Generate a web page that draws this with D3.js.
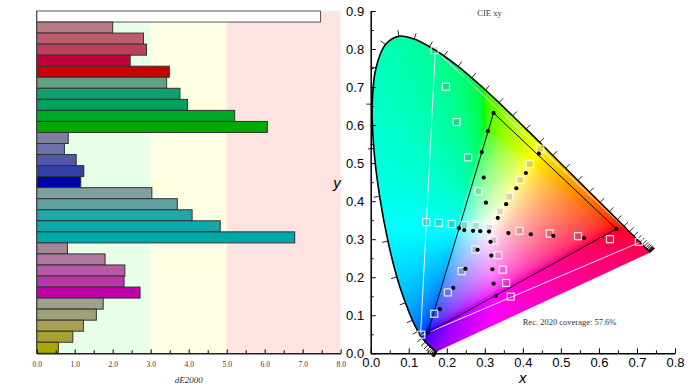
<!DOCTYPE html>
<html><head><meta charset="utf-8">
<script src="https://cdn.jsdelivr.net/npm/d3@7"></script>
<style>body{margin:0;background:#fff}svg{display:block}</style>
</head><body>
<svg id="c" width="693" height="390"></svg>
<script>
// ---------- Left chart data ----------
const barValues=[7.47,2.00,2.81,2.89,2.46,3.49,3.42,3.77,3.97,5.21,6.07,0.83,0.73,1.04,1.24,1.16,3.03,3.70,4.09,4.83,6.79,0.81,1.80,2.32,2.30,2.72,1.75,1.57,1.23,0.95,0.57];
const barColors=["#ffffff","#b87a84","#bc5c6c","#bd3f5c","#c0003c","#c80000","#62a080","#10a070","#00a060","#00a828","#00a800","#8080a0","#7070a8","#5058a8","#3040a8","#0000a8","#80a0a0","#60a0a0","#20a8a8","#10a8a8","#00a8a8","#a08898","#b078a0","#b85aa8","#b838a8","#c000a8","#a0a090","#a0a078","#a8a058","#a8a030","#a8a800"];
const deTicks=[0,1,2,3,4,5,6,7,8];
const deMinorTicks=[0.5,1.5,2.5,3.5,4.5,5.5,6.5,7.5];
const zoneStart=[0,3,5];
const zoneEnd=[3,5,8];
const zoneColors=["#e6ffe6","#ffffe4","#ffe3e3"];

// ---------- Right chart data ----------
const locusX=[0.1741,0.1740,0.1738,0.1736,0.1733,0.1730,0.1726,0.1721,0.1714,0.1703,0.1689,0.1669,0.1644,0.1611,0.1566,0.1510,0.1440,0.1355,0.1241,0.1096,0.0913,0.0687,0.0454,0.0235,0.0082,0.0039,0.0139,0.0389,0.0743,0.1142,0.1547,0.1929,0.2296,0.2658,0.3016,0.3373,0.3731,0.4087,0.4441,0.4788,0.5125,0.5448,0.5752,0.6029,0.6270,0.6482,0.6658,0.6801,0.6915,0.7006,0.7079,0.7140,0.7190,0.7230,0.7260,0.7283,0.7300,0.7311,0.7320,0.7327,0.7334,0.7340,0.7344,0.7346,0.7347];
const locusY=[0.0050,0.0050,0.0049,0.0049,0.0048,0.0048,0.0048,0.0048,0.0051,0.0058,0.0069,0.0086,0.0109,0.0138,0.0177,0.0227,0.0297,0.0399,0.0578,0.0868,0.1327,0.2007,0.2950,0.4127,0.5384,0.6548,0.7502,0.8120,0.8338,0.8262,0.8059,0.7816,0.7543,0.7243,0.6923,0.6589,0.6245,0.5896,0.5547,0.5202,0.4866,0.4544,0.4242,0.3965,0.3725,0.3514,0.3340,0.3197,0.3083,0.2993,0.2920,0.2859,0.2809,0.2770,0.2740,0.2717,0.2700,0.2689,0.2680,0.2673,0.2666,0.2660,0.2656,0.2654,0.2653];
const rec2020X=[0.708,0.170,0.131];
const rec2020Y=[0.292,0.797,0.046];
const gamutX=[0.646,0.323,0.150];
const gamutY=[0.327,0.632,0.054];
const targetX=[0.168,0.198,0.226,0.256,0.283,0.364,0.393,0.418,0.446,0.340,0.146,0.179,0.213,0.247,0.277,0.312,0.391,0.471,0.545,0.629,0.705,0.323,0.275,0.335,0.239,0.347,0.203,0.356,0.167,0.368,0.133];
const targetY=[0.797,0.701,0.608,0.515,0.426,0.412,0.456,0.497,0.538,0.373,0.345,0.343,0.340,0.337,0.335,0.330,0.322,0.315,0.308,0.300,0.293,0.297,0.273,0.258,0.216,0.220,0.160,0.185,0.104,0.149,0.049];
const measX=[0.323,0.308,0.292,0.297,0.303,0.442,0.408,0.383,0.356,0.334,0.232,0.246,0.269,0.288,0.311,0.362,0.421,0.480,0.561,0.646,0.315,0.281,0.317,0.249,0.320,0.217,0.323,0.182,0.328,0.150];
const measY=[0.632,0.584,0.529,0.462,0.396,0.525,0.474,0.434,0.392,0.356,0.329,0.324,0.322,0.321,0.320,0.316,0.313,0.309,0.303,0.327,0.293,0.272,0.257,0.222,0.221,0.172,0.183,0.116,0.150,0.054];
const xyXTicks=[0,0.1,0.2,0.3,0.4,0.5,0.6,0.7,0.8];
const xyYTicks=[0,0.1,0.2,0.3,0.4,0.5,0.6,0.7,0.8,0.9];
const titleText="CIE xy";
const coverageText="Rec. 2020 coverage: 57.6%";

const W=693,H=390;
const svg=d3.select("#c");
svg.append("rect").attr("width",W).attr("height",H).attr("fill","#fff");

// ===== Left bar chart =====
const xL=d3.scaleLinear().domain([0,8]).range([36.7,340.7]);
const yL=d3.scaleBand().domain(d3.range(barValues.length)).range([11,353.3]).padding(0);
const gL=svg.append("g");
gL.selectAll("rect.zone").data(zoneStart).join("rect").attr("class","zone")
  .attr("x",(d)=>xL(d)).attr("width",(d,i)=>xL(zoneEnd[i])-xL(d))
  .attr("y",11).attr("height",353.3-11).attr("fill",(d,i)=>zoneColors[i]);
gL.selectAll("rect.bar").data(barValues).join("rect").attr("class","bar")
  .attr("x",xL(0)).attr("y",(d,i)=>yL(i)).attr("width",d=>xL(d)-xL(0)).attr("height",yL.bandwidth())
  .attr("fill",(d,i)=>barColors[i]).attr("stroke",(d,i)=>i===0?"#555":"#333").attr("stroke-width",1);
gL.append("line").attr("x1",xL(0)).attr("x2",xL(0)).attr("y1",11).attr("y2",353.3).attr("stroke","#444").attr("stroke-width",1);
const axL=gL.append("g").attr("transform","translate(0,353.3)")
  .call(d3.axisBottom(xL).tickValues(deTicks).tickFormat(d3.format(".1f")).tickSizeInner(-4).tickSizeOuter(0).tickPadding(8.5));
axL.select(".domain").attr("stroke","#222").attr("stroke-width",1.5);
axL.selectAll("text").attr("font-family","Liberation Serif").attr("font-size",7.5).attr("fill","#333");
const axLm=gL.append("g").attr("transform","translate(0,353.3)")
  .call(d3.axisBottom(xL).tickValues(deMinorTicks).tickFormat("").tickSizeInner(-3).tickSizeOuter(0));
axLm.select(".domain").remove();
gL.append("text").attr("x",188.7).attr("y",383).attr("text-anchor","middle")
  .attr("font-family","Liberation Serif").attr("font-style","italic").attr("font-size",9).attr("fill","#333").text("dE2000");

// ===== Right CIE chart =====
const xR=d3.scaleLinear().domain([0,0.8]).range([370.7,675]);
const yR=d3.scaleLinear().domain([0,0.9]).range([353.3,11]);
const locusPts=locusX.map((x,i)=>[xR(x),yR(locusY[i])]);
const lineGen=d3.line().curve(d3.curveCatmullRom.alpha(0.5));
const locusPath=lineGen(locusPts);
const fillPath=locusPath+"Z";

function xyToRgb(x,y){
  if(y<0.0005)y=0.0005;
  const X=x/y,Y=1,Z=(1-x-y)/y;
  let r=3.2406*X-1.5372*Y-0.4986*Z;
  let g=-0.9689*X+1.8758*Y+0.0415*Z;
  let b=0.0557*X-0.2040*Y+1.0570*Z;
  const m=Math.min(r,g,b,0); r-=m; g-=m; b-=m;
  const M=Math.max(r,g,b)||1; r/=M; g/=M; b/=M;
  const gm=v=>v<=0.0031308?12.92*v:1.055*Math.pow(v,1/2.4)-0.055;
  return [gm(r)*255,gm(g)*255,gm(b)*255];
}
const off=document.createElement("canvas"); off.width=W; off.height=H;
const octx=off.getContext("2d");
const bx0=Math.floor(xR(0)), bx1=Math.ceil(xR(0.74)), by0=Math.floor(yR(0.845)), by1=Math.ceil(yR(0));
const img=octx.createImageData(bx1-bx0,by1-by0);
for(let py=by0;py<by1;py++){
  for(let px=bx0;px<bx1;px++){
    const c=xyToRgb(xR.invert(px+0.5),yR.invert(py+0.5));
    const k=((py-by0)*(bx1-bx0)+(px-bx0))*4;
    img.data[k]=c[0];img.data[k+1]=c[1];img.data[k+2]=c[2];img.data[k+3]=255;
  }
}
octx.putImageData(img,bx0,by0);
const cv=document.createElement("canvas"); cv.width=W; cv.height=H;
const ctx=cv.getContext("2d");
ctx.save(); ctx.clip(new Path2D(fillPath)); ctx.drawImage(off,0,0); ctx.restore();
const gR=svg.append("g");
gR.append("image").attr("href",cv.toDataURL()).attr("x",0).attr("y",0).attr("width",W).attr("height",H);

// Rec.2020 triangle (white)
const triPts=(xs,ys)=>xs.map((x,i)=>[xR(x),yR(ys[i])]);
gR.append("path").attr("d",d3.line()(triPts(rec2020X,rec2020Y))+"Z")
  .attr("fill","none").attr("stroke","#fff").attr("stroke-width",1).attr("opacity",0.9);
// measured gamut (black)
gR.append("path").attr("d",d3.line()(triPts(gamutX,gamutY))+"Z")
  .attr("fill","none").attr("stroke","#000").attr("stroke-width",1);

// locus outline
gR.append("path").attr("d",locusPath).attr("fill","none").attr("stroke","#000").attr("stroke-width",1.6);
// wavelength ticks
const cxp=xR(0.33),cyp=yR(0.33);
const ticks=[];
locusPts.forEach((p,i)=>{
  let j=i,k=i;
  while(j>0 && Math.hypot(locusPts[j][0]-p[0],locusPts[j][1]-p[1])<3)j--;
  while(k<locusPts.length-1 && Math.hypot(locusPts[k][0]-p[0],locusPts[k][1]-p[1])<3)k++;
  let tx=locusPts[k][0]-locusPts[j][0], ty=locusPts[k][1]-locusPts[j][1];
  const L=Math.hypot(tx,ty)||1; tx/=L; ty/=L;
  let nx=-ty,ny=tx;
  if(nx*(p[0]-cxp)+ny*(p[1]-cyp)<0){nx=-nx;ny=-ny;}
  ticks.push([p,[p[0]+nx*6,p[1]+ny*6]]);
});
gR.selectAll("line.wl").data(ticks).join("line").attr("class","wl")
  .attr("x1",d=>d[0][0]).attr("y1",d=>d[0][1]).attr("x2",d=>d[1][0]).attr("y2",d=>d[1][1])
  .attr("stroke","#111").attr("stroke-width",0.9);

// targets
const sq=7;
gR.selectAll("rect.t").data(targetX).join("rect").attr("class","t")
  .attr("x",(d)=>xR(d)-sq/2).attr("y",(d,i)=>yR(targetY[i])-sq/2).attr("width",sq).attr("height",sq)
  .attr("fill","rgba(90,90,90,0.2)").attr("stroke","rgba(255,255,255,0.85)").attr("stroke-width",1.2);
// measured
gR.selectAll("circle.m").data(measX).join("circle").attr("class","m")
  .attr("cx",d=>xR(d)).attr("cy",(d,i)=>yR(measY[i])).attr("r",2.1).attr("fill","#000");

// axes
const axX=gR.append("g").attr("transform","translate(0,353.3)")
  .call(d3.axisBottom(xR).tickValues(xyXTicks).tickFormat(d3.format(".1f")).tickSizeInner(-5).tickSizeOuter(0).tickPadding(4.5));
axX.select(".domain").attr("stroke","#000").attr("stroke-width",1.5);
axX.selectAll("text").attr("font-family","Liberation Sans").attr("font-size",13).attr("fill","#000");
const axXm=gR.append("g").attr("transform","translate(0,353.3)")
  .call(d3.axisBottom(xR).tickValues(xyXTicks.slice(0,-1).map(v=>v+0.05)).tickFormat("").tickSizeInner(-3).tickSizeOuter(0));
axXm.select(".domain").remove();
const axY=gR.append("g").attr("transform","translate(370.7,0)")
  .call(d3.axisLeft(yR).tickValues(xyYTicks).tickFormat(d3.format(".1f")).tickSizeInner(-5).tickSizeOuter(0).tickPadding(6.5));
axY.select(".domain").attr("stroke","#000").attr("stroke-width",1.5);
axY.selectAll("text").attr("font-family","Liberation Sans").attr("font-size",13).attr("fill","#000");
const axYm=gR.append("g").attr("transform","translate(370.7,0)")
  .call(d3.axisLeft(yR).tickValues(xyYTicks.slice(0,-1).map(v=>v+0.05)).tickFormat("").tickSizeInner(-3).tickSizeOuter(0));
axYm.select(".domain").remove();

gR.append("text").attr("x",522.7).attr("y",383).attr("text-anchor","middle")
  .attr("font-family","Liberation Sans").attr("font-style","italic").attr("font-size",15).text("x");
gR.append("text").attr("x",337).attr("y",188).attr("text-anchor","middle")
  .attr("font-family","Liberation Sans").attr("font-style","italic").attr("font-size",15).text("y");
gR.append("text").attr("x",489.5).attr("y",15.7).attr("text-anchor","middle")
  .attr("font-family","Liberation Serif").attr("font-size",8.5).attr("fill","#333").text(titleText);
gR.append("text").attr("x",522.7).attr("y",324.5).attr("text-anchor","start")
  .attr("font-family","Liberation Serif").attr("font-size",8.5).attr("fill","#333").text(coverageText);
</script>
</body></html>
